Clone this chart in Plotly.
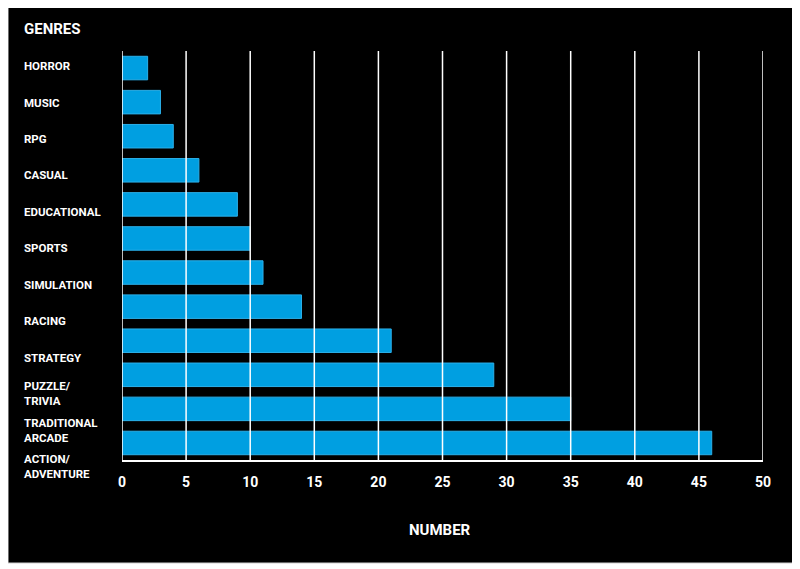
import plotly.graph_objects as go

# genres listed top to bottom as in the chart
genres = ["HORROR", "MUSIC", "RPG", "CASUAL", "EDUCATIONAL", "SPORTS",
          "SIMULATION", "RACING", "STRATEGY", "PUZZLE/<br>TRIVIA",
          "TRADITIONAL<br>ARCADE", "ACTION/<br>ADVENTURE"]
numbers = [2, 3, 4, 6, 9, 10, 11, 14, 21, 29, 35, 46]
x_ticks = [0, 5, 10, 15, 20, 25, 30, 35, 40, 45, 50]

blue = "#009fe1"
font = "Roboto"

fig = go.Figure()
fig.add_trace(go.Bar(x=numbers, y=genres, orientation="h",
                     marker=dict(color=blue, line=dict(color="#2bb0ea", width=1)),
                     hoverinfo="x+y"))
# helper trace so the label axis knows the categories
fig.add_trace(go.Scatter(x=numbers, y=genres, xaxis="x2", yaxis="y2",
                         mode="markers", marker=dict(opacity=0),
                         hoverinfo="skip", showlegend=False))

# vertical white grid lines drawn over the bars
for t in x_ticks:
    fig.add_shape(type="line", xref="x", yref="y domain", x0=t, x1=t, y0=0, y1=1,
                  line=dict(color="white", width=1.5), layer="above")

# black panel with the light frame around it
fig.add_shape(type="rect", xref="paper", yref="paper",
              x0=-0.1778, x1=1.0484, y0=-0.1785, y1=1.0984,
              fillcolor="black", line=dict(color="#cfcfcf", width=1), layer="below")

for g in genres:
    fig.add_annotation(text=g, xref="paper", yref="y2",
                       x=-0.1562, y=g, xanchor="left", yanchor="middle", align="left",
                       showarrow=False,
                       font=dict(family=font, size=11.5, color="white", weight="bold"))

fig.add_annotation(text="GENRES", xref="paper", yref="paper", x=-0.1562, y=1.0435,
                   xanchor="left", yanchor="middle", showarrow=False,
                   font=dict(family=font, size=15, color="white", weight="bold"))
fig.add_annotation(text="NUMBER", xref="paper", yref="paper", x=0.4961, y=-0.103,
                   xanchor="center", yanchor="middle", showarrow=False,
                   font=dict(family=font, size=15, color="white", weight="bold"))

fig.update_layout(
    width=792, height=561,
    margin=dict(l=114, r=37, t=40, b=84),
    paper_bgcolor="white", plot_bgcolor="rgba(0,0,0,0)",
    showlegend=False, bargap=0.31,
    xaxis=dict(range=[0, 50], tickvals=x_ticks, showgrid=False, zeroline=False,
               showline=True, linecolor="white", linewidth=1.5,
               ticks="", ticklabelstandoff=8,
               tickfont=dict(family=font, size=14, color="white", weight="bold"),
               fixedrange=True),
    yaxis=dict(domain=[0.0572, 0.9931], autorange="reversed", showticklabels=False,
               showgrid=False, zeroline=False, showline=False, ticks=""),
    xaxis2=dict(overlaying="x", visible=False, showgrid=False),
    yaxis2=dict(domain=[0, 1], anchor="x2", range=[11.5, -0.5], visible=False,
                showgrid=False),
)

fig.write_html("out.html")
